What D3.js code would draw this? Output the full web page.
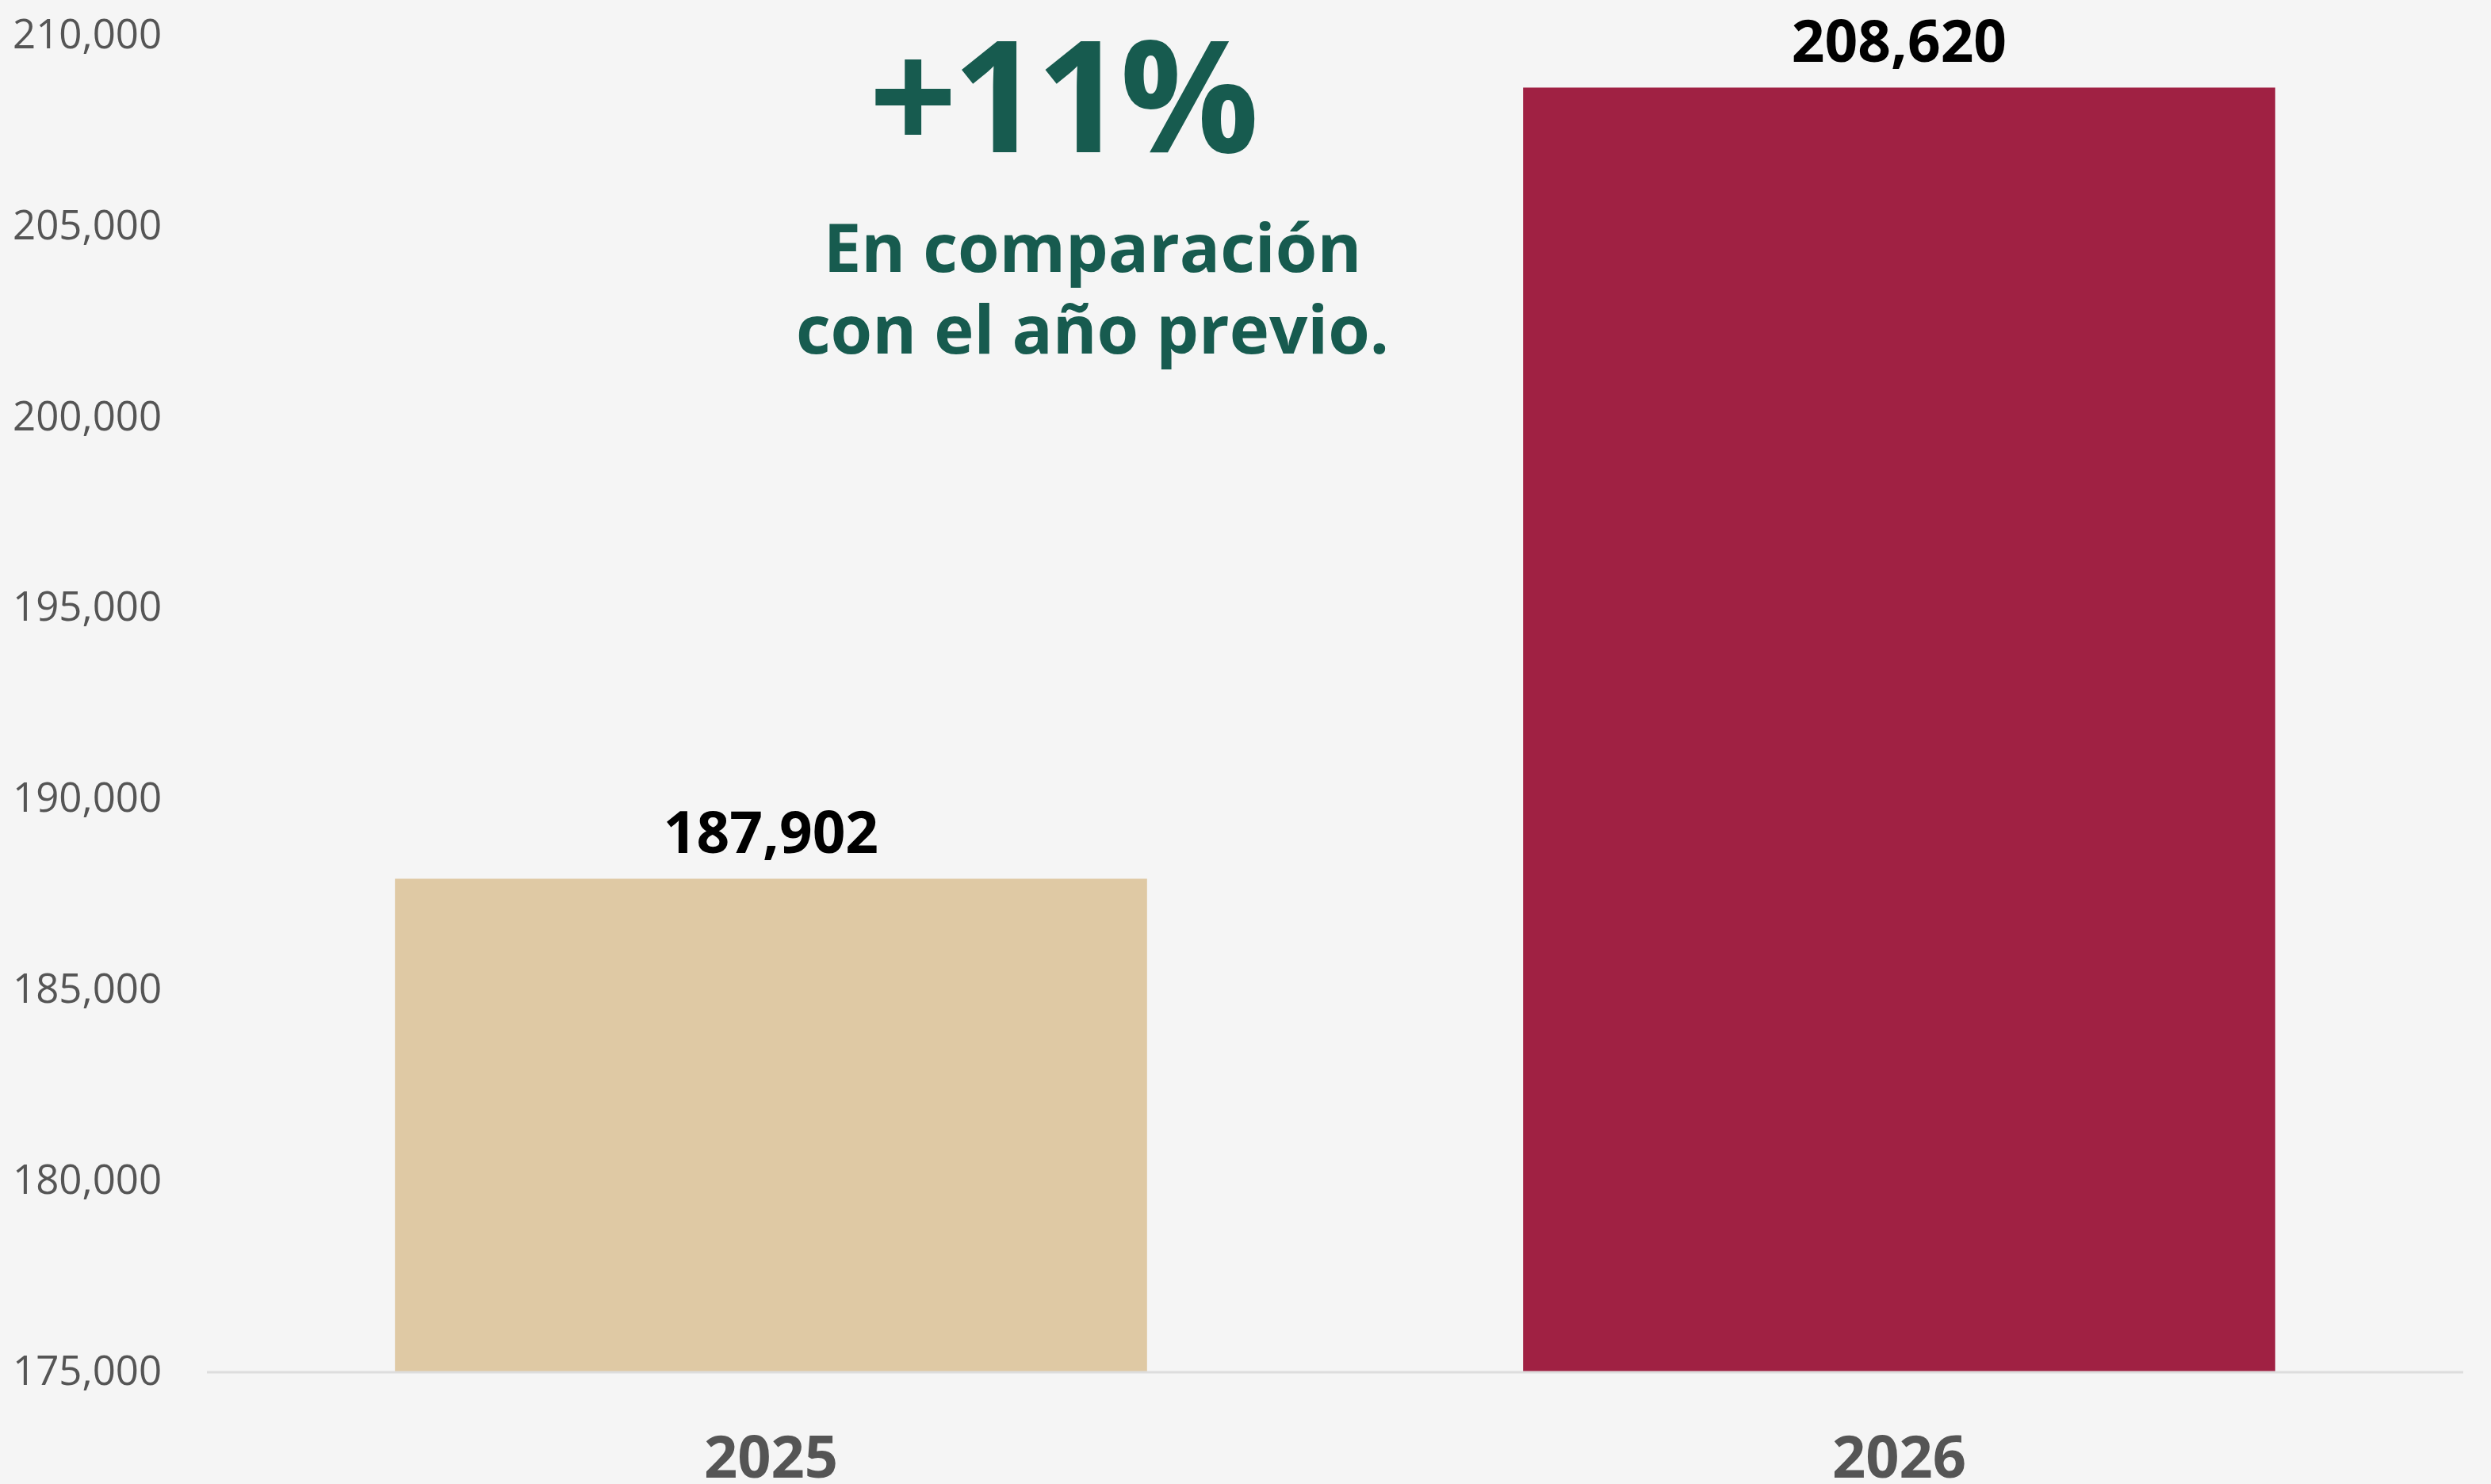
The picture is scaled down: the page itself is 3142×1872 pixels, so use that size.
<!DOCTYPE html>
<html>
<head>
<meta charset="utf-8">
<script src="https://cdn.jsdelivr.net/npm/d3@7"></script>
<style>
  html, body { margin: 0; padding: 0; background: #f5f5f5; }
  svg { display: block; }
  text { font-family: "Open Sans", "Noto Sans", sans-serif; }
</style>
</head>
<body>
<svg id="chart" width="3142" height="1872"></svg>
<script>
const categories = ["2025", "2026"];
const values = [187902, 208620];
const barColors = ["#dfc9a4", "#a02143"];
const yTicks = [175000, 180000, 185000, 190000, 195000, 200000, 205000, 210000];
const headline = "+11%";
const subtitleLines = ["En comparación", "con el año previo."];

const W = 3142, H = 1872;
const margin = { left: 261, right: 35, top: 44, bottom: 142 };
const svg = d3.select("#chart");

// background
svg.append("rect").attr("width", W).attr("height", H).attr("fill", "#f5f5f5");

const x = d3.scaleBand()
  .domain(categories)
  .range([margin.left, W - margin.right])
  .paddingInner(1/3)
  .paddingOuter(1/6);

const y = d3.scaleLinear()
  .domain([175000, 210000])
  .range([H - margin.bottom, margin.top]);

const fmt = d3.format(",");

// y axis labels
const yAxis = svg.append("g")
  .attr("transform", `translate(${margin.left},0)`)
  .call(d3.axisLeft(y).tickValues(yTicks).tickFormat(fmt).tickSize(0));
yAxis.select(".domain").remove();
yAxis.selectAll("text")
  .attr("x", 16 - margin.left)
  .attr("text-anchor", "start")
  .attr("fill", "#555")
  .style("font-size", "51px")
  .style("font-weight", 400);

// bars
svg.append("g").selectAll("rect")
  .data(categories)
  .join("rect")
  .attr("x", d => x(d))
  .attr("width", x.bandwidth())
  .attr("y", (d, i) => y(values[i]))
  .attr("height", (d, i) => y(175000) - y(values[i]))
  .attr("fill", (d, i) => barColors[i]);

// x axis
const xAxis = svg.append("g")
  .attr("transform", `translate(0,${y(175000) + 1})`)
  .call(d3.axisBottom(x).tickSize(0));
xAxis.select(".domain").attr("stroke", "#dddddd").attr("stroke-width", 3)
  .attr("d", `M${margin.left},0H${W - margin.right}`);
xAxis.selectAll("text")
  .attr("y", 133)
  .attr("dy", 0)
  .attr("fill", "#555")
  .style("font-size", "74px")
  .style("font-weight", 700);

// value labels
svg.append("g").selectAll("text")
  .data(categories)
  .join("text")
  .attr("x", d => x(d) + x.bandwidth() / 2)
  .attr("y", (d, i) => y(values[i]) - 32)
  .attr("text-anchor", "middle")
  .attr("fill", "#000")
  .style("font-size", "73px")
  .style("font-weight", 700)
  .text((d, i) => fmt(values[i]));

// headline
svg.append("text")
  .attr("x", 1339)
  .attr("y", 192)
  .attr("text-anchor", "middle")
  .attr("fill", "#175b4f")
  .style("font-size", "195px")
  .style("font-weight", 700)
  .style("letter-spacing", "-6px")
  .text(headline);

svg.append("g").selectAll("text")
  .data(subtitleLines)
  .join("text")
  .attr("x", 1378)
  .attr("y", (d, i) => 343 + i * 103)
  .attr("text-anchor", "middle")
  .attr("fill", "#175b4f")
  .style("font-size", "85px")
  .style("font-weight", 700)
  .text(d => d);
</script>
</body>
</html>
